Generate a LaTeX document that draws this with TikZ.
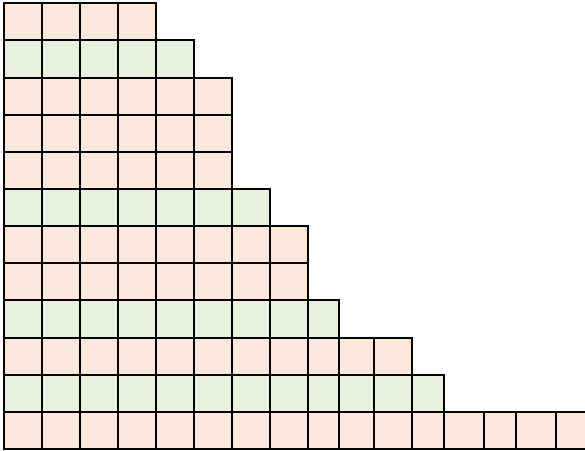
\documentclass[tikz,border=0pt]{standalone}
\usepackage{xcolor}
\usepackage{tikz}
\definecolor{cellPink}{RGB}{251,232,218}
\definecolor{cellGreen}{RGB}{233,240,222}

\begin{document}
\begin{tikzpicture}[
  x=1pt, y=-1pt,
  baseCell/.style={draw=black, line width=2pt},
  pinkCell/.style={baseCell, fill=cellPink},
  greenCell/.style={baseCell, fill=cellGreen}
]
\useasboundingbox (0,0) rectangle (585,450);
\clip (0,0) rectangle (585,450);
\foreach \len/\kind [count=\r] in {4/pinkCell, 5/greenCell, 6/pinkCell, 6/pinkCell, 6/pinkCell, 7/greenCell, 8/pinkCell, 8/pinkCell, 9/greenCell, 11/pinkCell, 12/greenCell, 16/pinkCell} {
  \pgfmathsetmacro{\top}{3.3+37.14*(\r-1)}
  \pgfmathsetmacro{\bot}{\top+37.14}
  \foreach \a/\b [count=\c] in {4/42, 42/80, 80/118.3, 118.3/156.3, 156.3/194.3, 194.3/232.3, 232.3/270.3, 270.3/308.3, 308.3/339, 339/374.3, 374.3/412.3, 412.3/444, 444/484, 484/516, 516/556, 556/600} {
    \ifnum\c>\len\relax\else
      \filldraw[\kind] (\a,\top) rectangle (\b,\bot);
    \fi
  }
}
\end{tikzpicture}
\end{document}
